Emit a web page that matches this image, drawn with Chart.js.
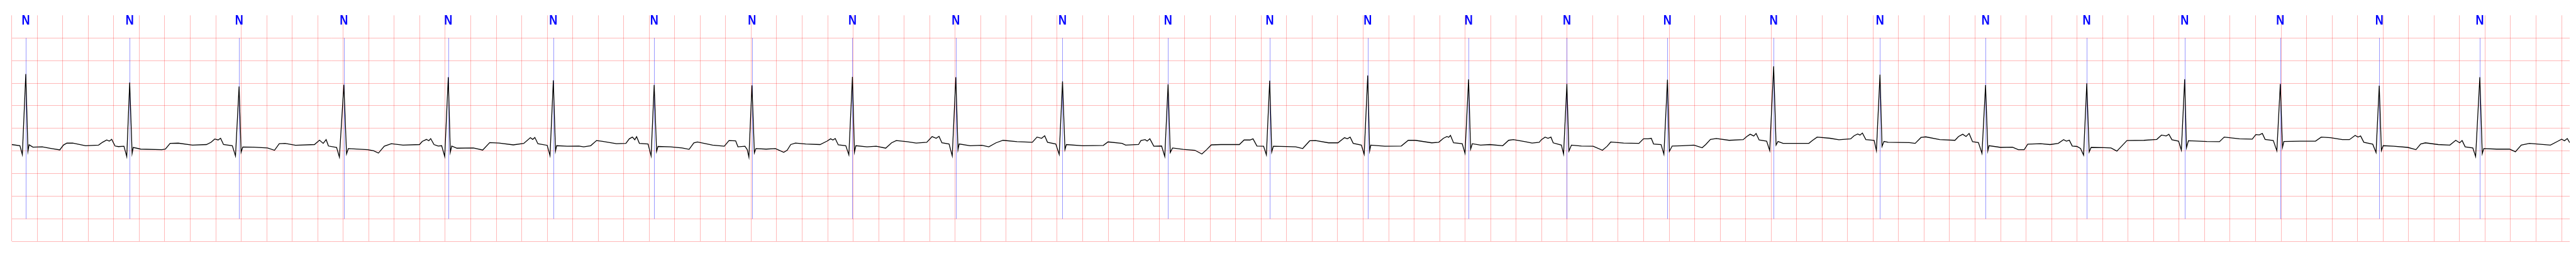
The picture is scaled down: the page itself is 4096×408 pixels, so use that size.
<!DOCTYPE html>
<html>
<head>
<meta charset="utf-8">
<script src="https://cdn.jsdelivr.net/npm/chart.js@4"></script>
<style>
  html, body { margin: 0; padding: 0; background: #fff; }
  canvas { display: block; }
</style>
</head>
<body>
<canvas id="ecg" width="4096" height="408"></canvas>
<script>
// ECG strip, ~20 s, beats annotated "N"

// sample times (s)
const ecgTime = [
  0.000, 0.064, 0.083, 0.110, 0.127, 0.136, 0.166, 0.239, 0.313, 0.377, 0.405, 0.432, 0.478, 0.579, 0.681, 0.712, 0.745, 0.765, 0.784, 0.810, 0.837, 0.880,
  0.902, 0.925, 0.944, 0.953, 1.012, 1.178, 1.205, 1.242, 1.306, 1.417, 1.527, 1.564, 1.592, 1.619, 1.638, 1.661, 1.730,
  1.755, 1.783, 1.799, 1.812, 1.895, 2.006, 2.061, 2.098, 2.144, 2.226, 2.374, 2.414, 2.443, 2.466, 2.484, 2.548,
  2.570, 2.605, 2.626, 2.640, 2.793, 2.839, 2.876, 2.922, 2.977, 3.069, 3.198, 3.220, 3.253, 3.271, 3.286, 3.312, 3.345, 3.372,
  3.396, 3.424, 3.440, 3.451, 3.492, 3.621, 3.694, 3.749, 3.823, 3.934, 4.016, 4.068, 4.086, 4.103, 4.127, 4.200,
  4.222, 4.248, 4.265, 4.274, 4.357, 4.449, 4.486, 4.541, 4.587, 4.633, 4.743, 4.817, 4.844, 4.868, 4.887, 4.901, 4.923, 4.991,
  5.015, 5.039, 5.058, 5.069, 5.166, 5.258, 5.313, 5.350, 5.378, 5.497, 5.589, 5.626, 5.678, 5.696, 5.751, 5.769,
  5.782, 5.806, 5.825, 5.837, 5.917, 5.990, 6.055, 6.082, 6.110, 6.147, 6.229, 6.340, 6.395, 6.423, 6.441, 6.459, 6.483, 6.542,
  6.566, 6.594, 6.610, 6.621, 6.708, 6.781, 6.855, 6.901, 6.938, 7.021, 7.094, 7.177, 7.219, 7.251, 7.273, 7.296, 7.352,
  7.377, 7.405, 7.422, 7.431, 7.517, 7.609, 7.664, 7.720, 7.775, 7.885, 8.005, 8.042, 8.078, 8.102, 8.124, 8.189,
  8.216, 8.242, 8.261, 8.272, 8.400, 8.562, 8.599, 8.709, 8.737, 8.838, 8.857, 8.890, 8.906, 8.927, 8.958, 9.019,
  9.044, 9.070, 9.087, 9.105, 9.188, 9.280, 9.335, 9.372, 9.409, 9.482, 9.629, 9.666, 9.712, 9.736, 9.767, 9.819,
  9.841, 9.867, 9.883, 9.896, 9.997, 10.071, 10.126, 10.181, 10.227, 10.329, 10.402, 10.454, 10.476, 10.498, 10.522, 10.586,
  10.608, 10.636, 10.651, 10.660, 10.770, 10.899, 10.954, 11.009, 11.138, 11.193, 11.230, 11.258, 11.271, 11.285, 11.309, 11.377,
  11.399, 11.427, 11.443, 11.456, 11.521, 11.594, 11.695, 11.741, 11.778, 11.870, 11.925, 11.981, 11.999, 12.027, 12.050, 12.073, 12.091, 12.155,
  12.172, 12.198, 12.214, 12.234, 12.312, 12.404, 12.477, 12.514, 12.542, 12.643, 12.763, 12.799, 12.836, 12.860, 12.878, 12.937,
  12.959, 12.987, 13.002, 13.024, 13.103, 13.195, 13.259, 13.287, 13.324, 13.370, 13.471, 13.581, 13.609, 13.636, 13.664, 13.682, 13.706, 13.765,
  13.789, 13.820, 13.839, 13.854, 13.894, 14.096, 14.124, 14.161, 14.262, 14.332, 14.424, 14.451, 14.479, 14.497, 14.516, 14.543, 14.608,
  14.626, 14.654, 14.670, 14.685, 14.718, 14.884, 14.930, 14.976, 15.013, 15.123, 15.242, 15.270, 15.303, 15.329, 15.353, 15.380, 15.426,
  15.454, 15.482, 15.500, 15.509, 15.601, 15.693, 15.739, 15.785, 15.813, 15.914, 15.988, 16.052, 16.094, 16.116, 16.139, 16.162, 16.199, 16.227,
  16.251, 16.276, 16.295, 16.310, 16.411, 16.466, 16.512, 16.549, 16.591, 16.724, 16.825, 16.862, 16.899, 16.920, 16.944, 16.996,
  17.018, 17.044, 17.058, 17.073, 17.217, 17.317, 17.354, 17.473, 17.574, 17.602, 17.629, 17.653, 17.675, 17.739,
  17.767, 17.794, 17.811, 17.822, 17.950, 18.070, 18.115, 18.189, 18.281, 18.336, 18.381, 18.403, 18.424, 18.449, 18.519,
  18.545, 18.570, 18.587, 18.601, 18.684, 18.794, 18.858, 18.895, 18.932, 19.033, 19.124, 19.170, 19.201, 19.220, 19.244, 19.304,
  19.326, 19.359, 19.378, 19.390, 19.491, 19.592, 19.638, 19.684, 19.748, 19.913, 19.968, 20.001, 20.023, 20.045, 20.064
];

// amplitude (mV), same order as ecgTime
const ecgMv = [
  -0.357, -0.382, -0.579, 1.202, -0.503, -0.362, -0.415, -0.407, -0.445, -0.475, -0.369, -0.326, -0.324, -0.382, -0.369, -0.306, -0.256, -0.281, -0.243, -0.389, -0.402, -0.394,
  -0.622, 1.015, -0.554, -0.420, -0.458, -0.470, -0.458, -0.331, -0.326, -0.369, -0.357, -0.306, -0.235, -0.256, -0.218, -0.357, -0.382,
  -0.609, 0.926, -0.528, -0.412, -0.415, -0.432, -0.483, -0.339, -0.331, -0.374, -0.357, -0.261, -0.331, -0.248, -0.389, -0.420,
  -0.634, 0.964, -0.564, -0.445, -0.470, -0.495, -0.546, -0.394, -0.339, -0.369, -0.357, -0.288, -0.243, -0.273, -0.225, -0.357, -0.389, -0.382,
  -0.622, 1.133, -0.528, -0.389, -0.437, -0.432, -0.478, -0.314, -0.324, -0.364, -0.331, -0.205, -0.243, -0.200, -0.339, -0.374,
  -0.602, 1.063, -0.501, -0.382, -0.394, -0.389, -0.407, -0.382, -0.268, -0.286, -0.339, -0.331, -0.230, -0.192, -0.250, -0.182, -0.331, -0.344,
  -0.609, 0.962, -0.508, -0.399, -0.407, -0.432, -0.463, -0.319, -0.301, -0.369, -0.394, -0.268, -0.275, -0.407, -0.394, -0.470,
  -0.634, 0.952, -0.541, -0.445, -0.458, -0.445, -0.528, -0.483, -0.357, -0.324, -0.344, -0.357, -0.281, -0.230, -0.256, -0.223, -0.364, -0.382,
  -0.584, 1.139, -0.526, -0.382, -0.407, -0.394, -0.437, -0.319, -0.268, -0.293, -0.324, -0.306, -0.180, -0.218, -0.175, -0.319, -0.344,
  -0.609, 1.133, -0.470, -0.344, -0.382, -0.374, -0.407, -0.319, -0.263, -0.293, -0.306, -0.192, -0.218, -0.162, -0.306, -0.344,
  -0.576, 1.040, -0.470, -0.357, -0.382, -0.375, -0.298, -0.331, -0.369, -0.357, -0.268, -0.248, -0.281, -0.230, -0.394, -0.389,
  -0.622, 0.974, -0.533, -0.432, -0.463, -0.483, -0.566, -0.470, -0.364, -0.357, -0.357, -0.256, -0.256, -0.230, -0.389, -0.394,
  -0.584, 1.056, -0.521, -0.394, -0.402, -0.407, -0.445, -0.273, -0.268, -0.319, -0.319, -0.205, -0.230, -0.192, -0.331, -0.369,
  -0.571, 1.171, -0.495, -0.369, -0.394, -0.389, -0.263, -0.263, -0.319, -0.306, -0.218, -0.180, -0.197, -0.155, -0.319, -0.339,
  -0.551, 1.083, -0.458, -0.339, -0.369, -0.357, -0.382, -0.263, -0.248, -0.293, -0.324, -0.306, -0.248, -0.192, -0.218, -0.192, -0.319, -0.369,
  -0.566, 0.982, -0.501, -0.369, -0.389, -0.394, -0.483, -0.394, -0.301, -0.324, -0.331, -0.230, -0.230, -0.218, -0.344, -0.357,
  -0.571, 1.078, -0.508, -0.389, -0.382, -0.369, -0.427, -0.357, -0.243, -0.223, -0.263, -0.248, -0.180, -0.129, -0.167, -0.112, -0.256, -0.281,
  -0.490, 1.373, -0.369, -0.288, -0.331, -0.331, -0.268, -0.192, -0.218, -0.252, -0.230, -0.162, -0.122, -0.147, -0.104, -0.248, -0.263,
  -0.490, 1.189, -0.399, -0.288, -0.306, -0.314, -0.331, -0.200, -0.187, -0.248, -0.263, -0.180, -0.129, -0.180, -0.112, -0.293, -0.314,
  -0.551, 0.957, -0.495, -0.382, -0.420, -0.415, -0.470, -0.470, -0.349, -0.339, -0.357, -0.331, -0.248, -0.281, -0.261, -0.389, -0.399, -0.445,
  -0.591, 0.995, -0.521, -0.420, -0.425, -0.432, -0.501, -0.394, -0.268, -0.263, -0.243, -0.147, -0.167, -0.129, -0.250, -0.281,
  -0.483, 1.088, -0.427, -0.273, -0.290, -0.293, -0.192, -0.230, -0.238, -0.137, -0.142, -0.112, -0.243, -0.268,
  -0.495, 0.982, -0.420, -0.288, -0.281, -0.281, -0.192, -0.205, -0.248, -0.248, -0.154, -0.192, -0.167, -0.306, -0.349,
  -0.533, 0.944, -0.490, -0.382, -0.394, -0.420, -0.470, -0.344, -0.319, -0.357, -0.369, -0.263, -0.319, -0.268, -0.407, -0.432,
  -0.622, 1.133, -0.559, -0.445, -0.458, -0.458, -0.516, -0.369, -0.331, -0.369, -0.288, -0.238, -0.273, -0.225, -0.314
];

// beat annotations (R peak times, s)
const beatTimes = [
  0.110, 0.925, 1.783, 2.605, 3.424, 4.248, 5.039, 5.806, 6.594, 7.405, 8.242, 9.070, 9.867,
  10.636, 11.427, 12.198, 12.987, 13.820, 14.654, 15.482, 16.276, 17.044, 17.794, 18.570, 19.359
];
const beatLabels = ['N', 'N', 'N', 'N', 'N', 'N', 'N', 'N', 'N', 'N', 'N', 'N', 'N',
  'N', 'N', 'N', 'N', 'N', 'N', 'N', 'N', 'N', 'N', 'N', 'N'];

// axis ranges / grid steps
const timeRange = [0, 20.064];
const mvRange = [-2.5, 2.5];
const timeStep = 0.2;
const mvStep = 0.5;
const markerSpan = [-2.0, 2.0];

const GRID = 'rgba(255, 0, 0, 0.28)';

const puntos = ecgTime.map((t, i) => ({ x: t, y: ecgMv[i] }));

// blue beat markers and "N" labels
const marcasLatidos = {
  id: 'marcasLatidos',
  beforeDatasetsDraw(chart) {
    const { ctx, chartArea } = chart;
    const x = chart.scales.x;
    const y = chart.scales.y;
    ctx.save();
    ctx.strokeStyle = 'rgba(0, 0, 255, 0.4)';
    ctx.lineWidth = 1;
    beatTimes.forEach((t) => {
      const px = Math.round(x.getPixelForValue(t)) + 0.5;
      ctx.beginPath();
      ctx.moveTo(px, y.getPixelForValue(markerSpan[1]));
      ctx.lineTo(px, y.getPixelForValue(markerSpan[0]));
      ctx.stroke();
    });
    ctx.fillStyle = '#0000ff';
    ctx.font = 'bold 22px "Liberation Sans", Arial, sans-serif';
    ctx.textAlign = 'center';
    ctx.textBaseline = 'alphabetic';
    beatTimes.forEach((t, i) => {
      ctx.save();
      ctx.translate(x.getPixelForValue(t), chartArea.top + 15);
      ctx.scale(0.82, 1); // narrow letterform like the original
      ctx.fillText(beatLabels[i], 0, 0);
      ctx.restore();
    });
    ctx.restore();
  }
};

new Chart(document.getElementById('ecg').getContext('2d'), {
  type: 'line',
  data: {
    datasets: [{
      data: puntos,
      borderColor: '#000000',
      borderWidth: 1.3,
      pointRadius: 0,
      tension: 0,
      fill: false
    }]
  },
  options: {
    responsive: false,
    animation: false,
    events: [],
    layout: { padding: { left: 18.7, right: 10, top: 24.3, bottom: 24.6 } },
    plugins: {
      legend: { display: false },
      tooltip: { enabled: false }
    },
    scales: {
      x: {
        type: 'linear',
        min: timeRange[0],
        max: timeRange[1],
        ticks: { display: false, stepSize: timeStep, includeBounds: false },
        grid: { color: GRID, lineWidth: 1, drawTicks: false },
        border: { display: false }
      },
      y: {
        type: 'linear',
        min: mvRange[0],
        max: mvRange[1],
        ticks: { display: false, stepSize: mvStep },
        grid: {
          // no line on the top edge
          color: (c) => (c.tick && c.tick.value >= mvRange[1] ? 'rgba(0,0,0,0)' : GRID),
          lineWidth: 1,
          drawTicks: false
        },
        border: { display: false }
      }
    }
  },
  plugins: [marcasLatidos]
});
</script>
</body>
</html>
